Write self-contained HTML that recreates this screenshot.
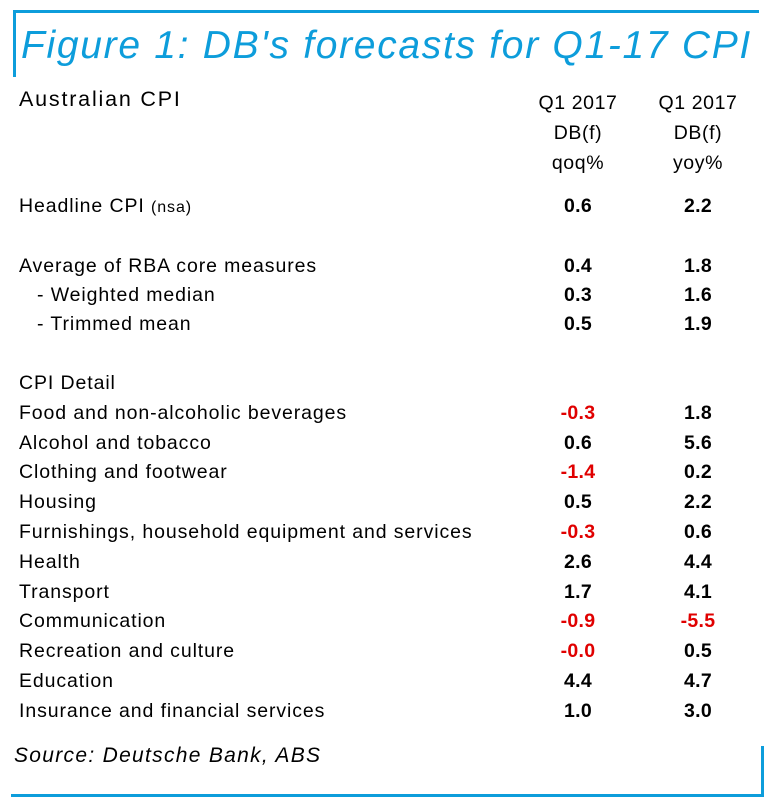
<!DOCTYPE html>
<html><head><meta charset="utf-8"><style>
body{margin:0;width:772px;height:810px;background:#fff;position:relative;overflow:hidden;font-family:"Liberation Sans",sans-serif;color:#000}
.a{position:absolute;white-space:nowrap;line-height:22px;font-size:19.5px;letter-spacing:0.9px}
.c{width:100px;text-align:center;font-weight:bold;letter-spacing:0.3px}
.q{left:528px}.y{left:648px}
.r{color:#e00000}
.ln{position:absolute;background:#0d9ddb}
</style></head><body>
<div class="ln" style="left:13px;top:10px;width:746px;height:3px"></div>
<div class="ln" style="left:13px;top:10px;width:3px;height:67px"></div>
<div class="ln" style="left:11px;top:794px;width:753px;height:3px"></div>
<div class="ln" style="left:761px;top:746px;width:3px;height:51px"></div>
<div class="a" style="left:21px;top:23px;font-size:39px;line-height:46px;font-style:italic;color:#0d9ddb;letter-spacing:1.7px">Figure 1: DB's forecasts for Q1-17 CPI</div>
<div class="a" style="left:19px;top:88px;font-size:21.5px;letter-spacing:1.8px">Australian CPI</div>
<div class="a c q" style="top:88px;line-height:30px;font-weight:normal;letter-spacing:0.6px">Q1 2017<br>DB(f)<br>qoq%</div>
<div class="a c y" style="top:88px;line-height:30px;font-weight:normal;letter-spacing:0.6px">Q1 2017<br>DB(f)<br>yoy%</div>
<div id="rows"></div>
<div class="a" style="left:14px;top:745px;font-size:21px;font-style:italic;letter-spacing:1.3px">Source: Deutsche Bank, ABS</div>
<script>
const labels=["Headline CPI","Average of RBA core measures","  - Weighted median","  - Trimmed mean","CPI Detail","Food and non-alcoholic beverages","Alcohol and tobacco","Clothing and footwear","Housing","Furnishings, household equipment and services","Health","Transport","Communication","Recreation and culture","Education","Insurance and financial services"];
const qoq=["0.6","0.4","0.3","0.5","","-0.3","0.6","-1.4","0.5","-0.3","2.6","1.7","-0.9","-0.0","4.4","1.0"];
const yoy=["2.2","1.8","1.6","1.9","","1.8","5.6","0.2","2.2","0.6","4.4","4.1","-5.5","0.5","4.7","3.0"];
const centers=[206,266,295,324,383,413,443,472,502,532,562,592,621,651,681,711];
const root=document.getElementById('rows');
labels.forEach((l,i)=>{
  const t=centers[i]-11;
  const d=document.createElement('div');
  d.className='a';d.style.left=(l.startsWith('  ')?'37px':'19px');d.style.top=t+'px';
  d.textContent=l.trim();
  if(i===0){d.innerHTML='Headline CPI <span style="font-size:16px">(nsa)</span>';}
  
  
  root.appendChild(d);
  [[qoq[i],'q'],[yoy[i],'y']].forEach(([v,cls])=>{
    if(!v)return;
    const e=document.createElement('div');
    e.className='a c '+cls+(v.startsWith('-')?' r':'');
    e.style.top=t+'px';e.textContent=v;
    
    
    root.appendChild(e);
  });
});
</script>
</body></html>
